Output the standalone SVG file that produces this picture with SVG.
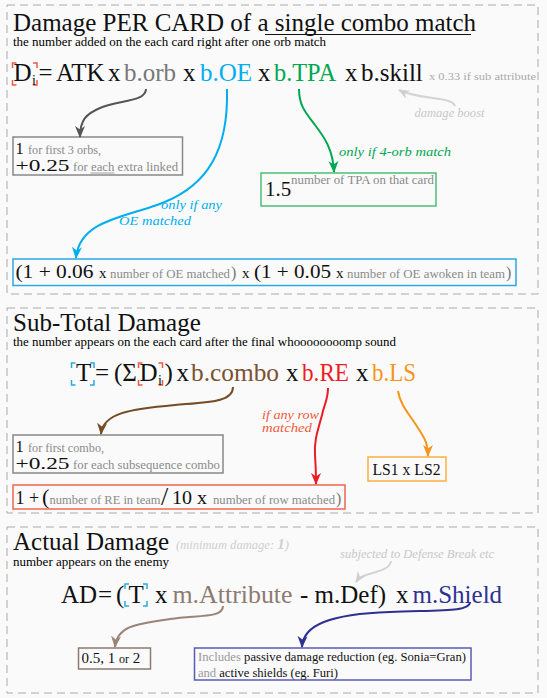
<svg xmlns="http://www.w3.org/2000/svg" width="547" height="698" viewBox="0 0 547 698">
<style>
text{font-family:"Liberation Serif","Times New Roman",serif;fill:#111}
.title{font-size:25px}
.sub{font-size:12px;fill:#000}
.f{font-size:25px}
.big{font-size:19px}
.num{font-size:16.5px}
.sm{font-size:11.5px;fill:#8a8a8a}
.it{font-style:italic;font-size:12.5px}
.sec{fill:none;stroke:#aaa;stroke-width:1;stroke-dasharray:8 5}
.box{fill:none;stroke-width:1.5}
.br{fill:none;stroke-width:1.5}
.con{fill:none;stroke-width:2}
</style>
<defs>
<marker id="aGray" viewBox="0 0 12 12" refX="11" refY="6" markerWidth="12" markerHeight="12" markerUnits="userSpaceOnUse" orient="auto"><path d="M0,1 L12,6 L0,11 L3.5,6 z" fill="#555"/></marker>
<marker id="aBlue" viewBox="0 0 12 12" refX="11" refY="6" markerWidth="12" markerHeight="12" markerUnits="userSpaceOnUse" orient="auto"><path d="M0,1 L12,6 L0,11 L3.5,6 z" fill="#00aeef"/></marker>
<marker id="aGreen" viewBox="0 0 12 12" refX="11" refY="6" markerWidth="12" markerHeight="12" markerUnits="userSpaceOnUse" orient="auto"><path d="M0,1 L12,6 L0,11 L3.5,6 z" fill="#00a651"/></marker>
<marker id="aLight" viewBox="0 0 12 12" refX="11" refY="6" markerWidth="11" markerHeight="11" markerUnits="userSpaceOnUse" orient="auto"><path d="M0,1 L12,6 L0,11 L3.5,6 z" fill="#cfcfcf"/></marker>
<marker id="aBrown" viewBox="0 0 12 12" refX="11" refY="6" markerWidth="12" markerHeight="12" markerUnits="userSpaceOnUse" orient="auto"><path d="M0,1 L12,6 L0,11 L3.5,6 z" fill="#754c24"/></marker>
<marker id="aRed" viewBox="0 0 12 12" refX="11" refY="6" markerWidth="12" markerHeight="12" markerUnits="userSpaceOnUse" orient="auto"><path d="M0,1 L12,6 L0,11 L3.5,6 z" fill="#ed1c24"/></marker>
<marker id="aOrange" viewBox="0 0 12 12" refX="11" refY="6" markerWidth="12" markerHeight="12" markerUnits="userSpaceOnUse" orient="auto"><path d="M0,1 L12,6 L0,11 L3.5,6 z" fill="#f7941d"/></marker>
<marker id="aTaupe" viewBox="0 0 12 12" refX="11" refY="6" markerWidth="12" markerHeight="12" markerUnits="userSpaceOnUse" orient="auto"><path d="M0,1 L12,6 L0,11 L3.5,6 z" fill="#9a8578"/></marker>
<marker id="aNavy" viewBox="0 0 12 12" refX="11" refY="6" markerWidth="12" markerHeight="12" markerUnits="userSpaceOnUse" orient="auto"><path d="M0,1 L12,6 L0,11 L3.5,6 z" fill="#2e3192"/></marker>
</defs>
<rect width="547" height="698" fill="#fafafa"/>

<!-- sections -->
<g id="sections">
<rect class="sec" x="7" y="5" width="531" height="289"/>
<rect class="sec" x="7" y="308" width="531" height="205"/>
<rect class="sec" x="7" y="527" width="531" height="166"/>
</g>

<!-- Section 1 -->
<g id="title1">
<text class="title" x="13" y="31">Damage PER CARD of a single combo match</text>
<line x1="265" y1="34.5" x2="471" y2="34.5" stroke="#111" stroke-width="1"/>
<text class="sub" x="13" y="46" textLength="313" lengthAdjust="spacingAndGlyphs">the number added on the each card right after one orb match</text>
</g>
<g id="formula1">
<path class="br" stroke="#f15a40" d="M16.5,63 H12.5 V68 M12.5,80 V85 H16.5 M33,63 H37 V68 M37,80 V85 H33"/>
<text class="f" x="13.5" y="81">D</text>
<text x="32" y="85" font-size="14">i</text>
<text class="f" x="38.5" y="81">=</text>
<text class="f" x="56" y="81">ATK</text>
<text class="f" x="108" y="81">x</text>
<text class="f" x="124" y="81" style="fill:#777">b.orb</text>
<text class="f" x="183" y="81">x</text>
<text class="f" x="200" y="81" style="fill:#00aeef">b.OE</text>
<text class="f" x="258" y="81">x</text>
<text class="f" x="274" y="81" style="fill:#00a651" textLength="62" lengthAdjust="spacingAndGlyphs">b.TPA</text>
<text class="f" x="345" y="81">x</text>
<text class="f" x="361" y="81">b.skill</text>
<text x="429" y="80" font-size="10.5" style="fill:#aaa" textLength="107" lengthAdjust="spacingAndGlyphs">x 0.33 if sub attribute</text>
</g>
<g id="note-boost">
<text class="it" x="414.5" y="117" style="fill:#c8c8c8" textLength="70" lengthAdjust="spacingAndGlyphs">damage boost</text>
</g>
<g id="box-orb">
<rect class="box" x="13" y="137" width="169.5" height="38" stroke="#888"/>
<text class="num" x="15.5" y="153.5">1</text>
<text class="sm" x="28" y="153.5" textLength="73" lengthAdjust="spacingAndGlyphs">for first 3 orbs,</text>
<text class="num" x="15.5" y="171" textLength="54" lengthAdjust="spacingAndGlyphs">+0.25</text>
<text class="sm" x="73" y="171" textLength="105" lengthAdjust="spacingAndGlyphs">for each extra linked</text>
<line x1="90.5" y1="173" x2="114.5" y2="173" stroke="#8a8a8a" stroke-width="0.8"/>
</g>
<g id="label-tpa">
<text class="it" x="339" y="156" style="fill:#00a651" textLength="112" lengthAdjust="spacingAndGlyphs">only if 4-orb match</text>
</g>
<g id="box-tpa">
<rect class="box" x="261" y="173" width="175" height="33" stroke="#4dbd74"/>
<text x="265" y="196" font-size="21">1.5</text>
<text class="sm" x="291" y="184" textLength="143" lengthAdjust="spacingAndGlyphs">number of TPA on that card</text>
</g>
<g id="label-oe">
<text class="it" x="161" y="209" style="fill:#00aeef" textLength="61" lengthAdjust="spacingAndGlyphs">only if any</text>
<text class="it" x="119" y="225" style="fill:#00aeef" textLength="72" lengthAdjust="spacingAndGlyphs">OE matched</text>
</g>
<g id="box-oe">
<rect class="box" x="13" y="259" width="503" height="26.5" stroke="#29abe2"/>
<text class="big" x="15.5" y="278" textLength="78" lengthAdjust="spacingAndGlyphs">(1 + 0.06</text>
<text x="99" y="278" font-size="15">x</text>
<text class="sm" x="110" y="278" textLength="120" lengthAdjust="spacingAndGlyphs">number of OE matched</text>
<text x="231" y="278" font-size="16" style="fill:#777">)</text>
<text x="242" y="278" font-size="15">x</text>
<text class="big" x="254" y="278" textLength="77" lengthAdjust="spacingAndGlyphs">(1 + 0.05</text>
<text x="336" y="278" font-size="15">x</text>
<text class="sm" x="347" y="278" textLength="158" lengthAdjust="spacingAndGlyphs">number of OE awoken in team</text>
<text x="506" y="278" font-size="16" style="fill:#777">)</text>
</g>

<!-- Section 2 -->
<g id="title2">
<text class="title" x="13" y="331">Sub-Total Damage</text>
<text class="sub" x="13" y="346" textLength="383" lengthAdjust="spacingAndGlyphs">the number appears on the each card after the final whoooooooomp sound</text>
</g>
<g id="formula2">
<path class="br" stroke="#29abe2" d="M75.5,363 H71.5 V368 M71.5,380 V385 H75.5 M90,363 H94 V368 M94,380 V385 H90"/>
<path class="br" stroke="#f15a40" d="M142.5,363 H138.5 V368 M138.5,380 V385 H142.5 M158.5,363 H162.5 V368 M162.5,380 V385 H158.5"/>
<text class="f" x="76" y="381">T</text>
<text class="f" x="95" y="381">=</text>
<text class="f" x="114" y="381">(Σ</text>
<text class="f" x="139.5" y="381">D</text>
<text x="158" y="385" font-size="14">i</text>
<text class="f" x="164.5" y="381">)</text>
<text class="f" x="176.5" y="381">x</text>
<text class="f" x="191" y="381" style="fill:#7b5230" textLength="88" lengthAdjust="spacingAndGlyphs">b.combo</text>
<text class="f" x="286" y="381">x</text>
<text class="f" x="302" y="381" style="fill:#ed1c24" textLength="47" lengthAdjust="spacingAndGlyphs">b.RE</text>
<text class="f" x="356" y="381">x</text>
<text class="f" x="372" y="381" style="fill:#f7941d" textLength="44" lengthAdjust="spacingAndGlyphs">b.LS</text>
</g>
<g id="label-re">
<text class="it" x="262" y="419" style="fill:#f15a40" textLength="57" lengthAdjust="spacingAndGlyphs">if any row</text>
<text class="it" x="262" y="431.5" style="fill:#f15a40" textLength="50" lengthAdjust="spacingAndGlyphs">matched</text>
</g>
<g id="box-combo">
<rect class="box" x="13" y="435" width="210" height="38" stroke="#888"/>
<text class="num" x="15.5" y="451.5">1</text>
<text class="sm" x="28" y="451.5" textLength="76" lengthAdjust="spacingAndGlyphs">for first combo,</text>
<text class="num" x="15.5" y="469" textLength="54" lengthAdjust="spacingAndGlyphs">+0.25</text>
<text class="sm" x="73" y="469" textLength="147" lengthAdjust="spacingAndGlyphs">for each subsequence combo</text>
</g>
<g id="box-ls">
<rect class="box" x="368" y="457" width="78" height="24" stroke="#fbb040"/>
<text x="372.5" y="474.5" font-size="16" textLength="68" lengthAdjust="spacingAndGlyphs">LS1 x LS2</text>
</g>
<g id="box-re">
<rect class="box" x="13" y="485" width="332" height="24" stroke="#f0674a"/>
<text x="15.5" y="503.5" font-size="18">1 +</text>
<text x="42" y="503.5" font-size="22">(</text>
<text class="sm" x="49.5" y="503.5" textLength="111" lengthAdjust="spacingAndGlyphs">number of RE in team</text>
<text x="161" y="504.5" font-size="26">/</text>
<text x="172" y="503.5" font-size="18" textLength="35" lengthAdjust="spacingAndGlyphs">10 x</text>
<text class="sm" x="213" y="503.5" textLength="122" lengthAdjust="spacingAndGlyphs">number of row matched</text>
<text x="336" y="503.5" font-size="16" style="fill:#777">)</text>
</g>

<!-- Section 3 -->
<g id="title3">
<text class="title" x="13" y="550">Actual Damage</text>
<text class="it" x="176" y="549" style="fill:#cfcfcf" textLength="113" lengthAdjust="spacingAndGlyphs">(minimum damage: <tspan font-weight="bold" font-size="15">1</tspan>)</text>
<text class="sub" x="13" y="565.5" textLength="156" lengthAdjust="spacingAndGlyphs">number appears on the enemy</text>
</g>
<g id="note-def">
<text class="it" x="340" y="558" style="fill:#c8c8c8" textLength="154" lengthAdjust="spacingAndGlyphs">subjected to Defense Break etc</text>
</g>
<g id="formula3">
<path class="br" stroke="#29abe2" d="M129,584 H125 V589 M125,601 V606 H129 M143,584 H147 V589 M147,601 V606 H143"/>
<text class="f" x="61" y="602.5">AD</text>
<text class="f" x="98" y="602.5">=</text>
<text class="f" x="116" y="602.5">(</text>
<text class="f" x="128.5" y="602.5">T</text>
<text class="f" x="155" y="602.5">x</text>
<text class="f" x="172.5" y="602.5" style="fill:#8c7b70" textLength="120" lengthAdjust="spacingAndGlyphs">m.Attribute</text>
<text class="f" x="300" y="602.5">- m.Def)</text>
<text class="f" x="396" y="602.5">x</text>
<text class="f" x="412.5" y="602.5" style="fill:#2e3192">m.Shield</text>
</g>
<g id="box-attr">
<rect class="box" x="78.5" y="648" width="72" height="21" stroke="#8c7b70"/>
<text x="81.5" y="663" font-size="15">0.5, 1 <tspan font-size="12">or</tspan> 2</text>
</g>
<g id="box-shield">
<rect class="box" x="194.5" y="648" width="276.5" height="32" stroke="#5a5ab4"/>
<text x="198" y="660.5" font-size="11.5" textLength="268" lengthAdjust="spacingAndGlyphs"><tspan style="fill:#999">Includes</tspan> passive damage reduction (eg. Sonia=Gran)</text>
<text x="198" y="676.5" font-size="11.5" textLength="140" lengthAdjust="spacingAndGlyphs"><tspan style="fill:#999">and</tspan> active shields (eg. Furi)</text>
</g>

<!-- connectors -->
<g id="connectors">
<path class="con" stroke="#555" marker-end="url(#aGray)" d="M146,89 C146,102 118,100 100,108 C86,114 80,120 80,137"/>
<path class="con" stroke="#00aeef" marker-end="url(#aBlue)" d="M227,89 L227,100 C226,160 200,190 157,205 C120,218 79,222 76,258"/>
<path class="con" stroke="#00a651" marker-end="url(#aGreen)" d="M299,89 C299,105 305,112 315,125 C325,138 333,150 334,172"/>
<path class="con" stroke="#d4d4d4" stroke-width="1.5" marker-end="url(#aLight)" d="M455,106 C452,96 418,100 399,90"/>
<path class="con" stroke="#754c24" marker-end="url(#aBrown)" d="M233,387 C233,402 210,402 175,405 C130,409 103,413 101,434"/>
<path class="con" stroke="#ed1c24" marker-end="url(#aRed)" d="M328,388 C328,400 324,405 322,415 C318,430 314,440 315,455 C316,468 316,475 316,484"/>
<path class="con" stroke="#f7941d" marker-end="url(#aOrange)" d="M398,391 C400,405 410,415 418,428 C426,440 428,445 428,456"/>
<path class="con" stroke="#d4d4d4" stroke-width="1.5" marker-end="url(#aLight)" d="M391,561 C390,570 375,572 366,575 C360,577 358,579 356,582"/>
<path class="con" stroke="#9a8578" marker-end="url(#aTaupe)" d="M223,606 C223,618 200,615 170,619 C135,624 117,626 115,647"/>
<path class="con" stroke="#2e3192" marker-end="url(#aNavy)" d="M470,602 C470,612 440,610 390,612 C330,614 303,625 302,647"/>
</g>
</svg>
